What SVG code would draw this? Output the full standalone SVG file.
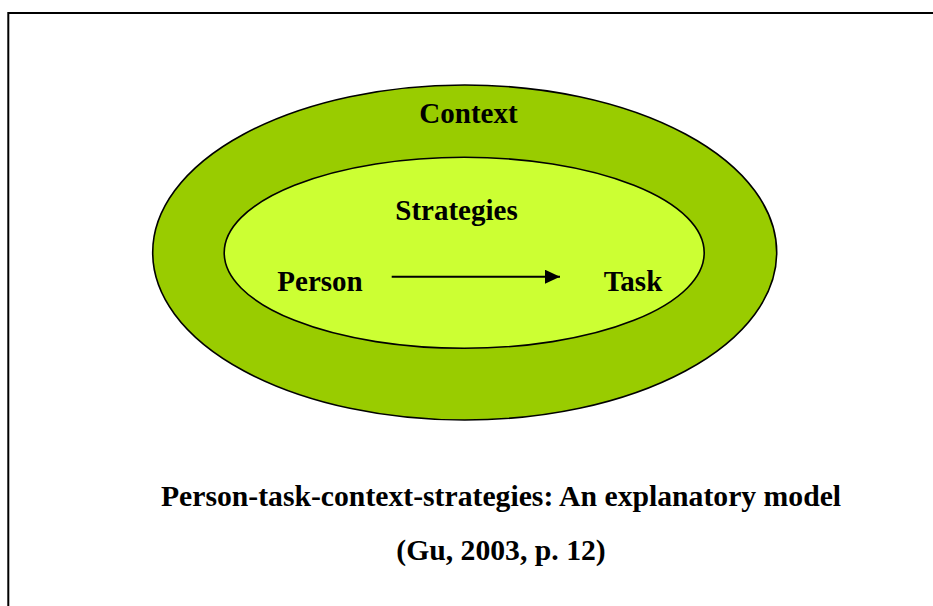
<svg xmlns="http://www.w3.org/2000/svg" width="933" height="606" viewBox="0 0 933 606">
  <defs>
    <style>
      .lbl { font-family: "Liberation Serif", "Times New Roman", serif; font-weight: bold; font-size: 29px; fill: #000; }
      .cap { font-size: 29.7px; }
      .ring { stroke: #000; stroke-width: 1.6; }
    </style>
    <marker id="arrowhead" markerWidth="16" markerHeight="14" refX="15" refY="7" orient="auto" markerUnits="userSpaceOnUse">
      <path d="M0,0 L15,7 L0,14 Z" fill="#000"/>
    </marker>
  </defs>

  <rect width="933" height="606" fill="#fff"/>
  <!-- frame around the figure (continues past the right and bottom edges) -->
  <rect x="8.3" y="13" width="940" height="610" fill="none" stroke="#000" stroke-width="2"/>

  <g id="context">
    <ellipse class="ring" cx="464.7" cy="252.5" rx="312" ry="167.5" fill="#99CC00"/>
    <text class="lbl" x="468.5" y="123.3" text-anchor="middle">Context</text>
  </g>

  <g id="strategies">
    <ellipse class="ring" cx="464.2" cy="252.8" rx="240" ry="95.5" fill="#CCFF33"/>
    <text class="lbl" x="456.5" y="220" text-anchor="middle">Strategies</text>
  </g>

  <g id="person">
    <text class="lbl" x="320" y="290.7" text-anchor="middle">Person</text>
  </g>

  <g id="task">
    <text class="lbl" x="633" y="290.7" text-anchor="middle">Task</text>
  </g>

  <g id="connectors">
    <line x1="391.7" y1="276.7" x2="560" y2="276.7" stroke="#000" stroke-width="2" marker-end="url(#arrowhead)"/>
  </g>

  <g id="caption">
    <text class="lbl cap" x="501" y="506" text-anchor="middle">Person-task-context-strategies: An explanatory model</text>
    <text class="lbl cap" x="501" y="560" text-anchor="middle">(Gu, 2003, p. 12)</text>
  </g>
</svg>
